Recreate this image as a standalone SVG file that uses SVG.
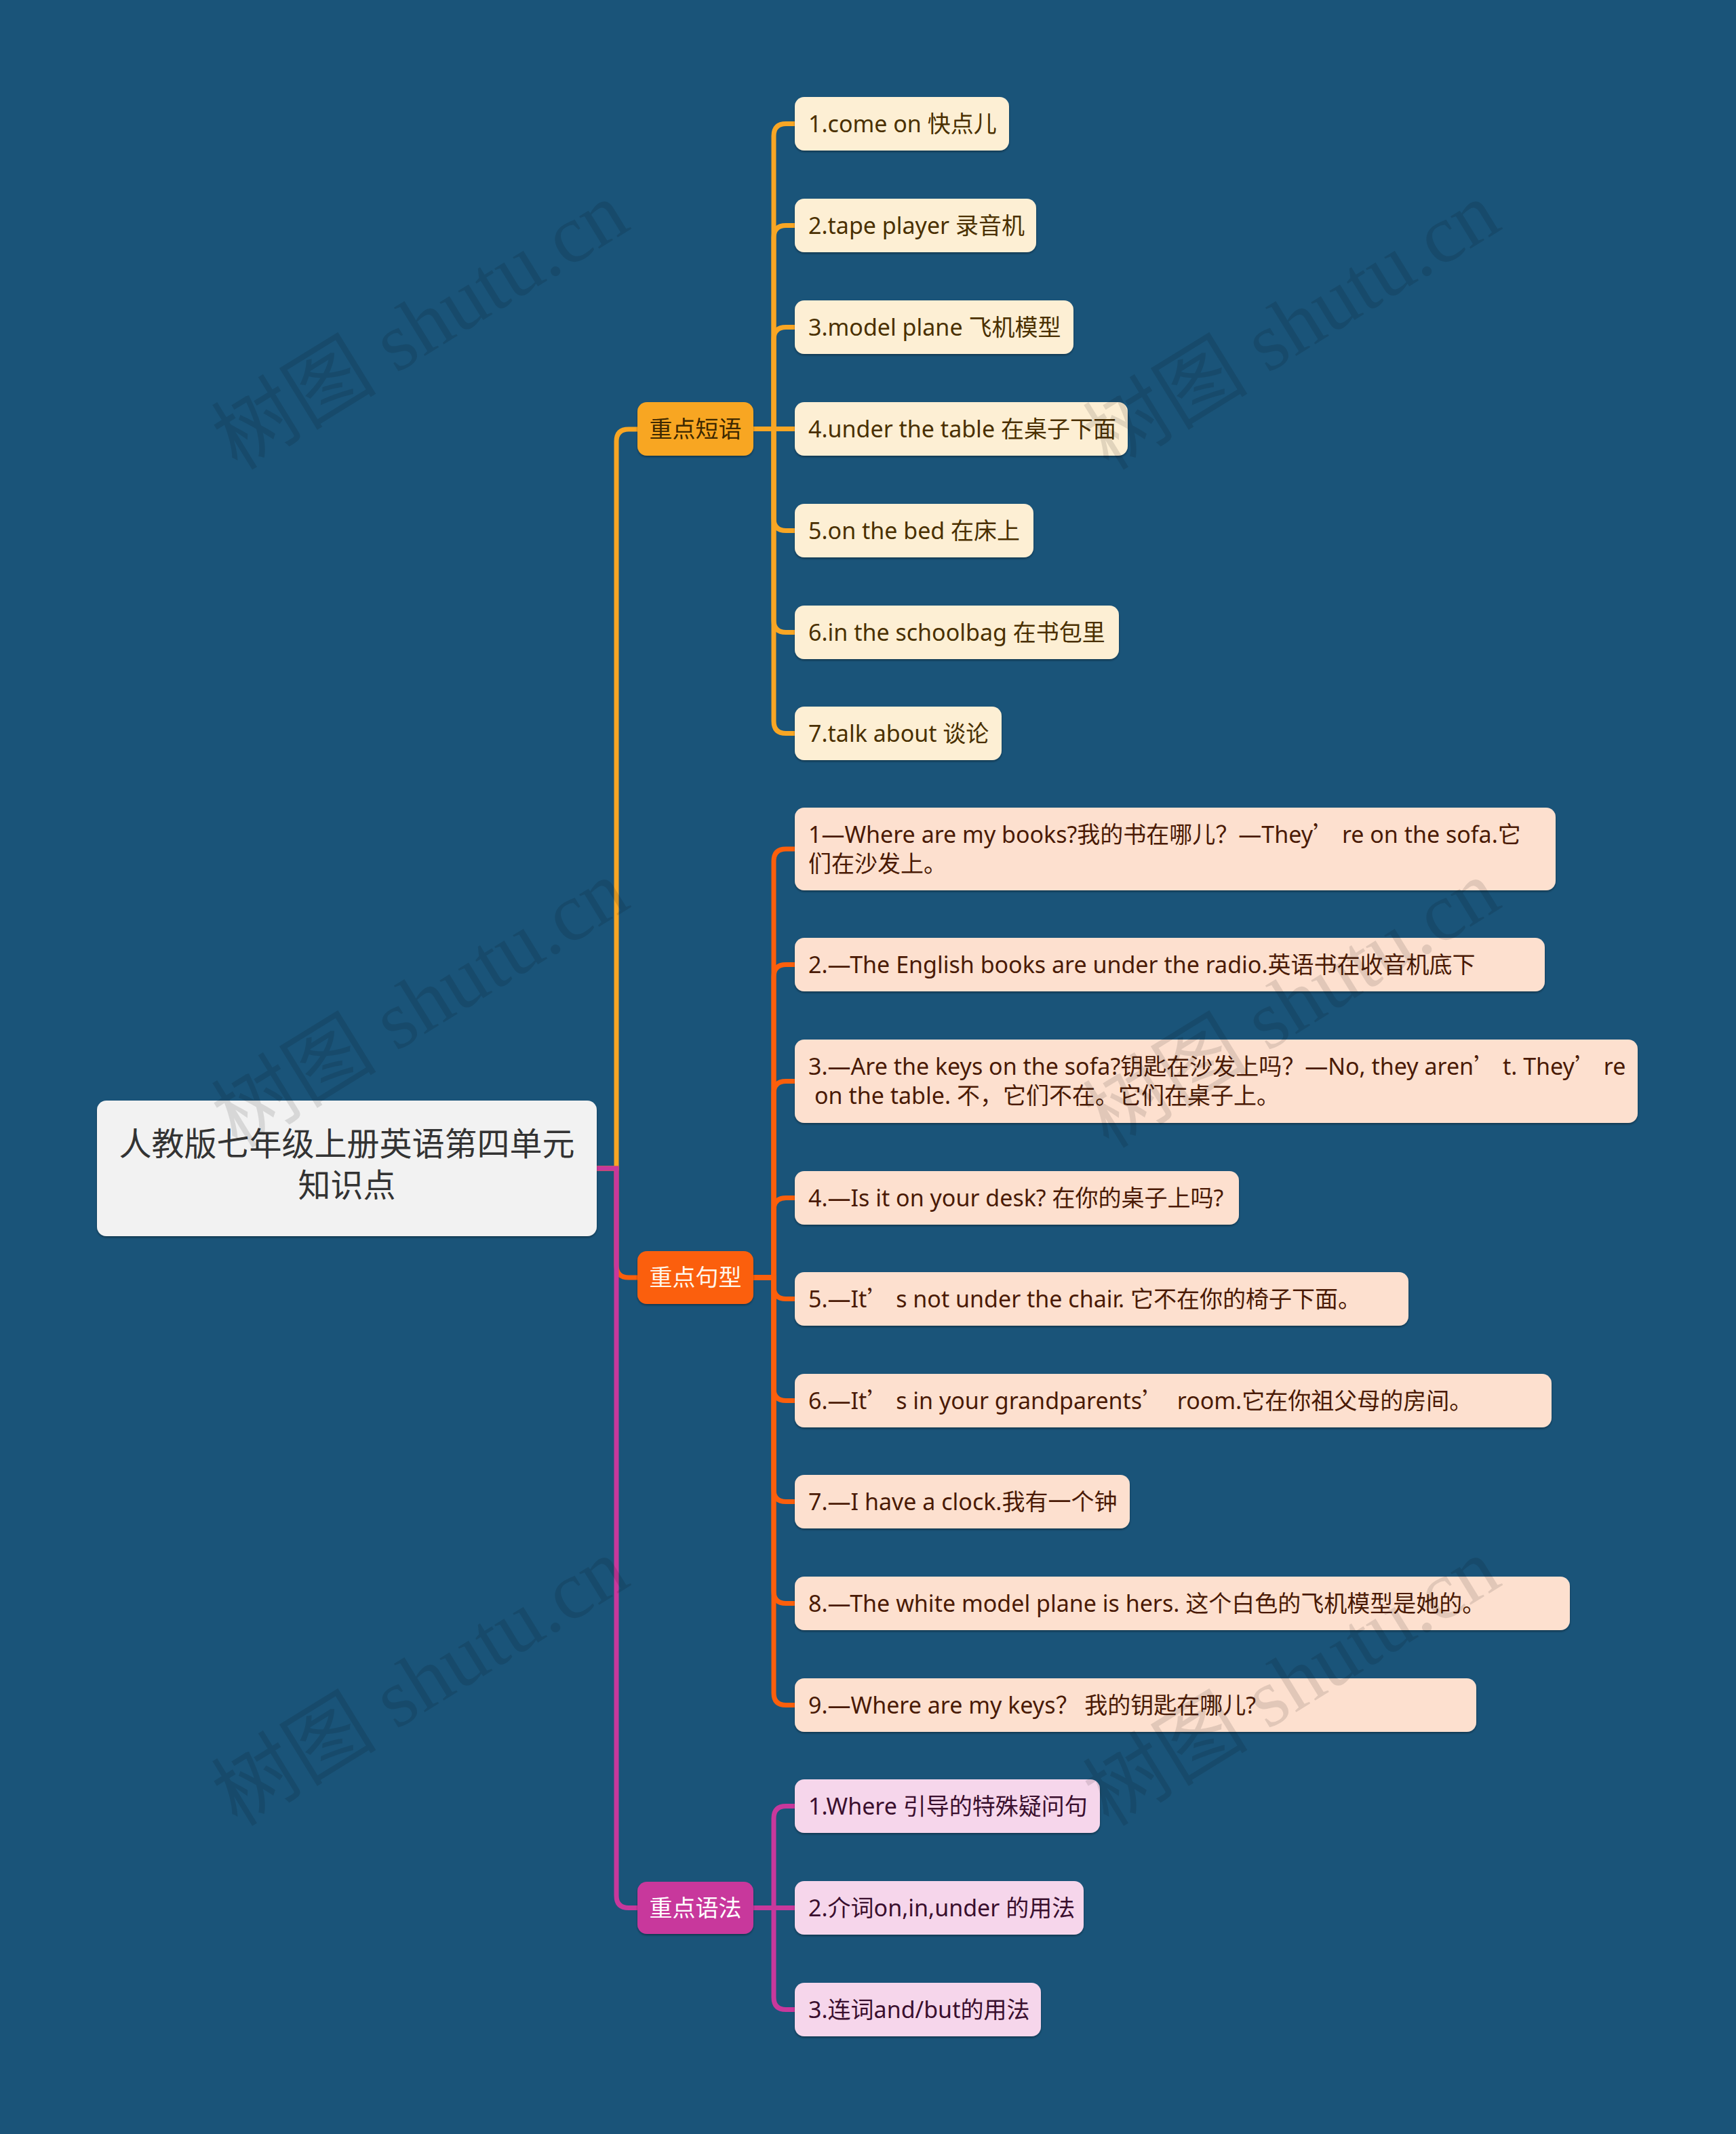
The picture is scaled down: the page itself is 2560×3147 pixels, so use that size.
<svg xmlns="http://www.w3.org/2000/svg" width="2560" height="3147" viewBox="0 0 2560 3147" xml:space="preserve">
<defs>
<style>
.t{font-family:"Noto Sans","Noto Sans CJK SC",sans-serif;font-size:34px;white-space:pre}
.rt{font-family:"Noto Sans","Noto Sans CJK SC",sans-serif;font-size:48px;fill:#333}
.q{font-family:"Noto Sans CJK SC",sans-serif}
.lk{fill:none;stroke-width:7}
.am{stroke:#f8a624}
.or{stroke:#fb5f0c}
.mg{stroke:#c8389c}
.pc{fill:#fdefd4}
.sc{fill:#fde0cf}
.gc{fill:#f6d6eb}
.pt{fill:#4a3000}
.st{fill:#4a1a05}
.gt{fill:#3a0f2e}
.wm{font-family:"Liberation Serif","Noto Sans CJK SC",serif;font-size:122px;fill:#000;fill-opacity:0.11}
</style>
<filter id="sh" x="-5%" y="-10%" width="110%" height="130%"><feDropShadow dx="0" dy="2" stdDeviation="1.5" flood-color="#000" flood-opacity="0.35"/></filter>
</defs>
<rect width="2560" height="3147" fill="#1a5479"/>
<g id="connectors">
<path class="lk am" d="M880,1723 H909 V651 Q909,633 927,633 H940"/>
<path class="lk or" d="M880,1723 H909 V1866 Q909,1884 927,1884 H940"/>
<path class="lk mg" d="M880,1723 H909 V2795.5 Q909,2813.5 927,2813.5 H940"/>
<path class="lk am" d="M1111,632.5 H1141 V200.5 Q1141,182.5 1159,182.5 H1172"/>
<path class="lk am" d="M1111,632.5 H1141 V350.5 Q1141,332.5 1159,332.5 H1172"/>
<path class="lk am" d="M1111,632.5 H1141 V500.5 Q1141,482.5 1159,482.5 H1172"/>
<path class="lk am" d="M1111,632.5 H1172"/>
<path class="lk am" d="M1111,632.5 H1141 V764.5 Q1141,782.5 1159,782.5 H1172"/>
<path class="lk am" d="M1111,632.5 H1141 V914.5 Q1141,932.5 1159,932.5 H1172"/>
<path class="lk am" d="M1111,632.5 H1141 V1063.5 Q1141,1081.5 1159,1081.5 H1172"/>
<path class="lk or" d="M1111,1884 H1141 V1270 Q1141,1252 1159,1252 H1172"/>
<path class="lk or" d="M1111,1884 H1141 V1440.5 Q1141,1422.5 1159,1422.5 H1172"/>
<path class="lk or" d="M1111,1884 H1141 V1612.5 Q1141,1594.5 1159,1594.5 H1172"/>
<path class="lk or" d="M1111,1884 H1141 V1784.5 Q1141,1766.5 1159,1766.5 H1172"/>
<path class="lk or" d="M1111,1884 H1141 V1897.5 Q1141,1915.5 1159,1915.5 H1172"/>
<path class="lk or" d="M1111,1884 H1141 V2047.5 Q1141,2065.5 1159,2065.5 H1172"/>
<path class="lk or" d="M1111,1884 H1141 V2196.5 Q1141,2214.5 1159,2214.5 H1172"/>
<path class="lk or" d="M1111,1884 H1141 V2346.5 Q1141,2364.5 1159,2364.5 H1172"/>
<path class="lk or" d="M1111,1884 H1141 V2496.5 Q1141,2514.5 1159,2514.5 H1172"/>
<path class="lk mg" d="M1111,2813.5 H1141 V2681.5 Q1141,2663.5 1159,2663.5 H1172"/>
<path class="lk mg" d="M1111,2813.5 H1172"/>
<path class="lk mg" d="M1111,2813.5 H1141 V2945.5 Q1141,2963.5 1159,2963.5 H1172"/>
</g>
<g id="root"><rect x="143" y="1623" width="737" height="200" rx="14" fill="#f2f2f2" filter="url(#sh)"/><text class="rt" x="511.5" y="1704" text-anchor="middle">人教版七年级上册英语第四单元</text><text class="rt" x="511.5" y="1765" text-anchor="middle">知识点</text></g>
<g id="n-phrases"><rect x="940" y="593" width="171" height="79" rx="14" fill="#f8a624" filter="url(#sh)"/><text class="t" x="1025.5" y="644.5" text-anchor="middle" fill="#3d2800">重点短语</text></g>
<g id="n-sentences"><rect x="940" y="1845" width="171" height="78" rx="14" fill="#fb5f0c" filter="url(#sh)"/><text class="t" x="1025.5" y="1896" text-anchor="middle" fill="#fff6ea">重点句型</text></g>
<g id="n-grammar"><rect x="940" y="2775" width="171" height="77" rx="14" fill="#c8389c" filter="url(#sh)"/><text class="t" x="1025.5" y="2825.5" text-anchor="middle" fill="#fff">重点语法</text></g>
<g id="p1"><rect class="pc" x="1172" y="143" width="316" height="79" rx="14" filter="url(#sh)"/><text class="t pt" x="1192" y="194.5">1.come on 快点儿</text></g>
<g id="p2"><rect class="pc" x="1172" y="293" width="356" height="79" rx="14" filter="url(#sh)"/><text class="t pt" x="1192" y="344.5">2.tape player 录音机</text></g>
<g id="p3"><rect class="pc" x="1172" y="443" width="411" height="79" rx="14" filter="url(#sh)"/><text class="t pt" x="1192" y="494.5">3.model plane 飞机模型</text></g>
<g id="p4"><rect class="pc" x="1172" y="593" width="491" height="79" rx="14" filter="url(#sh)"/><text class="t pt" x="1192" y="644.5">4.under the table 在桌子下面</text></g>
<g id="p5"><rect class="pc" x="1172" y="743" width="352" height="79" rx="14" filter="url(#sh)"/><text class="t pt" x="1192" y="794.5">5.on the bed 在床上</text></g>
<g id="p6"><rect class="pc" x="1172" y="893" width="478" height="79" rx="14" filter="url(#sh)"/><text class="t pt" x="1192" y="944.5">6.in the schoolbag 在书包里</text></g>
<g id="p7"><rect class="pc" x="1172" y="1042" width="305" height="79" rx="14" filter="url(#sh)"/><text class="t pt" x="1192" y="1093.5">7.talk about 谈论</text></g>
<g id="s1"><rect class="sc" x="1172" y="1191" width="1122" height="122" rx="14" filter="url(#sh)"/><text class="t st" x="1192" y="1242.5">1—Where are my books?我的书在哪儿？—They<tspan class="q">’</tspan> re on the sofa.它</text><text class="t st" x="1192" y="1285.5">们在沙发上。</text></g>
<g id="s2"><rect class="sc" x="1172" y="1383" width="1106" height="79" rx="14" filter="url(#sh)"/><text class="t st" x="1192" y="1434.5">2.—The English books are under the radio.英语书在收音机底下</text></g>
<g id="s3"><rect class="sc" x="1172" y="1533" width="1243" height="123" rx="14" filter="url(#sh)"/><text class="t st" x="1192" y="1584.5">3.—Are the keys on the sofa?钥匙在沙发上吗？—No, they aren<tspan class="q">’</tspan> t. They<tspan class="q">’</tspan> re</text><text class="t st" x="1201" y="1627.5">on the table. 不，它们不在。它们在桌子上。</text></g>
<g id="s4"><rect class="sc" x="1172" y="1727" width="655" height="79" rx="14" filter="url(#sh)"/><text class="t st" x="1192" y="1778.5">4.—Is it on your desk? 在你的桌子上吗?</text></g>
<g id="s5"><rect class="sc" x="1172" y="1876" width="905" height="79" rx="14" filter="url(#sh)"/><text class="t st" x="1192" y="1927.5">5.—It<tspan class="q">’</tspan> s not under the chair. 它不在你的椅子下面。</text></g>
<g id="s6"><rect class="sc" x="1172" y="2026" width="1116" height="79" rx="14" filter="url(#sh)"/><text class="t st" x="1192" y="2077.5">6.—It<tspan class="q">’</tspan> s in your grandparents<tspan class="q">’</tspan>  room.它在你祖父母的房间。</text></g>
<g id="s7"><rect class="sc" x="1172" y="2175" width="494" height="79" rx="14" filter="url(#sh)"/><text class="t st" x="1192" y="2226.5">7.—I have a clock.我有一个钟</text></g>
<g id="s8"><rect class="sc" x="1172" y="2325" width="1143" height="79" rx="14" filter="url(#sh)"/><text class="t st" x="1192" y="2376.5">8.—The white model plane is hers. 这个白色的飞机模型是她的。</text></g>
<g id="s9"><rect class="sc" x="1172" y="2475" width="1005" height="79" rx="14" filter="url(#sh)"/><text class="t st" x="1192" y="2526.5">9.—Where are my keys？ 我的钥匙在哪儿?</text></g>
<g id="g1"><rect class="gc" x="1172" y="2624" width="450" height="79" rx="14" filter="url(#sh)"/><text class="t gt" x="1192" y="2675.5">1.Where 引导的特殊疑问句</text></g>
<g id="g2"><rect class="gc" x="1172" y="2774" width="426" height="79" rx="14" filter="url(#sh)"/><text class="t gt" x="1192" y="2825.5">2.介词on,in,under 的用法</text></g>
<g id="g3"><rect class="gc" x="1172" y="2924" width="363" height="79" rx="14" filter="url(#sh)"/><text class="t gt" x="1192" y="2975.5">3.连词and/but的用法</text></g>
<g id="watermarks">
<text class="wm" transform="translate(350,695) rotate(-31.6)">树图 shutu.cn</text>
<text class="wm" transform="translate(1635,695) rotate(-31.6)">树图 shutu.cn</text>
<text class="wm" transform="translate(350,1695) rotate(-31.6)">树图 shutu.cn</text>
<text class="wm" transform="translate(1635,1695) rotate(-31.6)">树图 shutu.cn</text>
<text class="wm" transform="translate(350,2695) rotate(-31.6)">树图 shutu.cn</text>
<text class="wm" transform="translate(1635,2695) rotate(-31.6)">树图 shutu.cn</text>
</g>
</svg>
